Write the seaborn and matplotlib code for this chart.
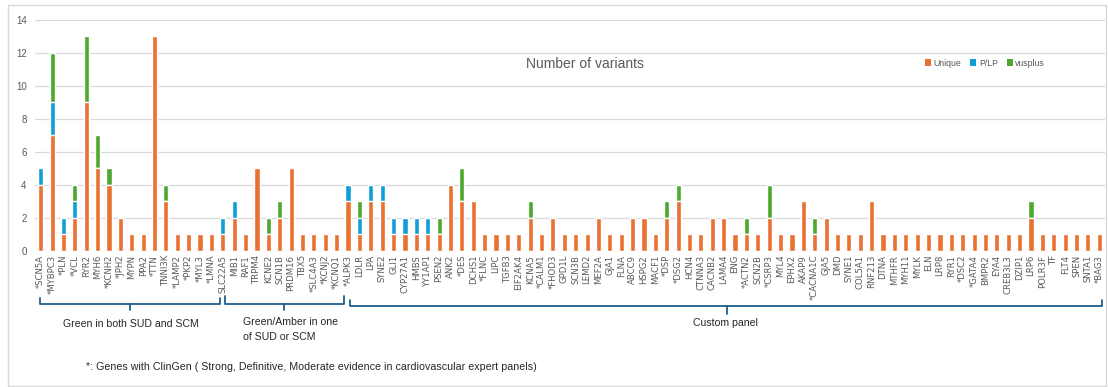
import matplotlib
matplotlib.use("Agg")
import matplotlib.pyplot as plt
import matplotlib.transforms as mtransforms
from matplotlib.patches import Patch, Rectangle
import numpy as np
import pandas as pd
import seaborn as sns

# Genes in display order (asterisk = ClinGen-supported gene)
genes = [
    "*SCN5A", "*MYBPC3", "*PLN", "*VCL", "RYR2", "MYH6", "*KCNH2", "*JPH2", "MYPN", "PPA2",
    "*TTN", "TNNI3K", "*LAMP2", "*PKP2", "*MYL3", "*LMNA", "SLC22A5",
    "MIB1", "RAF1", "TRPM4", "KCNE2", "SCN1B", "PRDM16", "TBX5", "*SLC4A3", "*KCNJ2", "*KCNQ1",
    "*ALPK3", "LDLR", "LPA", "SYNE2", "GLI1", "CYP27A1", "HMBS", "YY1AP1", "PSEN2", "ANK2",
    "*DES", "DCHS1", "*FLNC", "LIPC", "TGFB3", "EIF2AK4", "KCNA5", "*CALM1", "*FHOD3", "GPD1L",
    "SCN3B", "LEMD2", "MEF2A", "GJA1", "FLNA", "ABCC9", "HSPG2", "MACF1", "*DSP", "*DSG2",
    "HCN4", "CTNNA3", "CACNB2", "LAMA4", "ENG", "*ACTN2", "SCN2B", "*CSRP3", "MYL4", "EPHX2",
    "AKAP9", "*CACNA1C", "GJA5", "DMD", "SYNE1", "COL5A1", "RNF213", "DTNA", "MTHFR", "MYH11",
    "MYLK", "ELN", "LRP8", "RYR1", "*DSC2", "*GATA4", "BMPR2", "EYA4", "CREB3L3", "DZIP1",
    "LRP6", "POLR3F", "TF", "FLT4", "SPEN", "SNTA1", "*BAG3",
]

unique = [
    4, 7, 1, 2, 9, 5, 4, 2, 1, 1,
    13, 3, 1, 1, 1, 1, 1,
    2, 1, 5, 1, 2, 5, 1, 1, 1, 1,
    3, 1, 3, 3, 1, 1, 1, 1, 1, 4,
    3, 3, 1, 1, 1, 1, 2, 1, 2, 1,
    1, 1, 2, 1, 1, 2, 2, 1, 2, 3,
    1, 1, 2, 2, 1, 1, 1, 2, 1, 1,
    3, 1, 2, 1, 1, 1, 3, 1, 1, 1,
    1, 1, 1, 1, 1, 1, 1, 1, 1, 1,
    2, 1, 1, 1, 1, 1, 1,
]

plp = [
    1, 2, 1, 1, 0, 0, 0, 0, 0, 0,
    0, 0, 0, 0, 0, 0, 1,
    1, 0, 0, 0, 0, 0, 0, 0, 0, 0,
    1, 1, 1, 1, 1, 1, 1, 1, 0, 0,
    0, 0, 0, 0, 0, 0, 0, 0, 0, 0,
    0, 0, 0, 0, 0, 0, 0, 0, 0, 0,
    0, 0, 0, 0, 0, 0, 0, 0, 0, 0,
    0, 0, 0, 0, 0, 0, 0, 0, 0, 0,
    0, 0, 0, 0, 0, 0, 0, 0, 0, 0,
    0, 0, 0, 0, 0, 0, 0,
]

vusplus = [
    0, 3, 0, 1, 4, 2, 1, 0, 0, 0,
    0, 1, 0, 0, 0, 0, 0,
    0, 0, 0, 1, 1, 0, 0, 0, 0, 0,
    0, 1, 0, 0, 0, 0, 0, 0, 1, 0,
    2, 0, 0, 0, 0, 0, 1, 0, 0, 0,
    0, 0, 0, 0, 0, 0, 0, 0, 1, 1,
    0, 0, 0, 0, 0, 1, 0, 2, 0, 0,
    0, 1, 0, 0, 0, 0, 0, 0, 0, 0,
    0, 0, 0, 0, 0, 0, 0, 0, 0, 0,
    1, 0, 0, 0, 0, 0, 0,
]

series_names = ["Unique", "P/LP", "vusplus"]
colors = {"Unique": "#E97132", "P/LP": "#0F9ED5", "vusplus": "#4EA72E"}

df = pd.DataFrame({"gene": genes, "Unique": unique, "P/LP": plp, "vusplus": vusplus})
df["top_plp"] = df["Unique"] + df["P/LP"]
df["top_all"] = df["top_plp"] + df["vusplus"]

sns.set_theme(style="white")
plt.rcParams["font.family"] = ["Liberation Sans", "DejaVu Sans"]

W, H = 1108, 387
fig = plt.figure(figsize=(W / 100, H / 100), dpi=100)
ax = fig.add_axes([35 / W, 1 - 250.7 / H, 1070 / W, (250.7 - 20) / H])

# Stacked bars: draw cumulative heights back to front
bar_w = 0.45
sns.barplot(data=df, x="gene", y="top_all", color=colors["vusplus"], width=bar_w,
            saturation=1, order=genes, ax=ax)
sns.barplot(data=df, x="gene", y="top_plp", color=colors["P/LP"], width=bar_w,
            saturation=1, order=genes, ax=ax)
sns.barplot(data=df, x="gene", y="Unique", color=colors["Unique"], width=bar_w,
            saturation=1, order=genes, ax=ax)

ax.set_xlim(-0.5, len(genes) - 0.5)
ax.set_ylim(0, 14)
ax.set_yticks(range(0, 15, 2))
ax.set_xlabel("")
ax.set_ylabel("")
ax.grid(axis="y", color="#d9d9d9", linewidth=0.9)
ax.set_axisbelow(True)
for s in ax.spines.values():
    s.set_visible(False)
ax.tick_params(axis="y", length=0, pad=6, labelsize=7, labelcolor="#595959")
ax.tick_params(axis="x", length=0, pad=3, labelsize=6.1, labelcolor="#595959")
ax.set_xticks(range(len(genes)))
ax.set_xticklabels(genes, rotation=90, family=["DejaVu Sans"])

# Chart title inside plot area
fig.text(585 / W, 1 - 64 / H, "Number of variants", ha="center", va="center",
         fontsize=10, color="#595959")

# Legend
handles = [Patch(facecolor=colors[n], edgecolor="none", label=n) for n in series_names]
fig.legend(handles=handles, loc="center", bbox_to_anchor=(985 / W, 1 - 63 / H), ncol=3,
           frameon=False, fontsize=6.3, handlelength=0.7, handleheight=0.7,
           handletextpad=0.3, columnspacing=1.0, labelcolor="#595959")

# Group brackets below gene labels
tr = mtransforms.blended_transform_factory(ax.transData, fig.transFigure)
bracket_color = "#1F5F8B"


def bracket(x0, x1, xc, y_top, y_line, y_tip):
    yt, yl, yp = 1 - y_top / H, 1 - y_line / H, 1 - y_tip / H
    ax.plot([x0, x0, x1, x1], [yt, yl, yl, yt], transform=tr, clip_on=False,
            color=bracket_color, lw=1.3, solid_joinstyle="round")
    ax.plot([xc, xc], [yl, yp], transform=tr, clip_on=False,
            color=bracket_color, lw=1.3)


bracket(-0.06, 15.75, 7.85, 298, 303.5, 310)
bracket(16.2, 26.65, 21.37, 296, 304, 310)
bracket(27.18, 93.26, 60.3, 300, 306, 314)

text_color = "#262626"
fig.text(131 / W, 1 - 324 / H, "Green in both SUD and SCM", ha="center", va="center",
         fontsize=7.6, color=text_color)
fig.text(243 / W, 1 - 322 / H, "Green/Amber in one", ha="left", va="center",
         fontsize=7.6, color=text_color)
fig.text(243 / W, 1 - 337 / H, "of SUD or SCM", ha="left", va="center",
         fontsize=7.6, color=text_color)
fig.text(725 / W, 1 - 323 / H, "Custom panel", ha="center", va="center",
         fontsize=7.6, color=text_color)
fig.text(86 / W, 1 - 367 / H,
         "*: Genes with ClinGen ( Strong, Definitive, Moderate evidence in cardiovascular expert panels)",
         ha="left", va="center", fontsize=7.7, color=text_color)

# Light frame around the chart
fig.patches.append(Rectangle((8 / W, 1 - 386 / H), (1106 - 8) / W, (386 - 5) / H,
                             transform=fig.transFigure, fill=False,
                             edgecolor="#d9d9d9", linewidth=1.0))

fig.savefig("out.png", dpi=100)
